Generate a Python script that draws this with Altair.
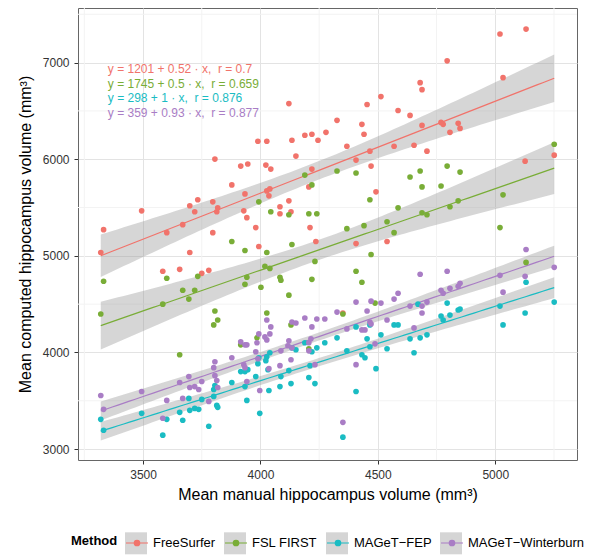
import numpy as np
import pandas as pd
import altair as alt

methods = ["FreeSurfer", "FSL FIRST", "MAGeT\u2212FEP", "MAGeT\u2212Winterburn"]
palette = ["#F1736B", "#79AD37", "#1ABCC3", "#A97DC5"]
equations = [
    "y = 1201 + 0.52 \u00b7 x,\u00a0 r = 0.7",
    "y = 1745 + 0.5 \u00b7 x,\u00a0 r = 0.659",
    "y = 298 + 1 \u00b7 x,\u00a0 r = 0.876",
    "y = 359 + 0.93 \u00b7 x,\u00a0 r = 0.877",
]

# FreeSurfer
fs_x = [3320, 3332, 3494, 3584, 3601, 3656, 3669, 3699, 3699, 3720,
        3733, 3750, 3780, 3797, 3797, 3806, 3814, 3818, 3878, 3916,
        3929, 3934, 3942, 3946, 3980, 3989, 3993, 4023, 4027, 4027,
        4036, 4040, 4044, 4083, 4083, 4121, 4121, 4130, 4134, 4151,
        4189, 4206, 4211, 4219, 4219, 4236, 4245, 4279, 4326, 4351,
        4368, 4407, 4407, 4432, 4441, 4454, 4466, 4471, 4492, 4513,
        4539, 4569, 4586, 4637, 4654, 4680, 4688, 4688, 4709, 4769,
        4778, 4795, 4807, 4842, 4850, 5020, 5033, 5127, 5131, 5251]
fs_y = [5035, 5271, 5466, 4840, 5240, 4860, 5323, 5518, 5035, 5456,
        5580, 4819, 4850, 5559, 5240, 6001, 5456, 5497, 5734, 5929,
        5466, 5641, 5395, 5950, 5292, 6186, 5097, 5939, 6186, 5672,
        5621, 5693, 5898, 5508, 5436, 6576, 5569, 5456, 6196, 6032,
        6248, 5713, 5292, 6258, 5898, 5148, 6196, 6278, 6402, 4408,
        6134, 5991, 5127, 6361, 6258, 6566, 6083, 5929, 5662, 6648,
        5148, 6134, 6504, 6453, 6145, 6792, 6720, 6350, 6083, 6381,
        6361, 7018, 6278, 6371, 6319, 7296, 6844, 5980, 7347, 6042]

# FSL FIRST
fsl_x = [3320, 3332, 3584, 3601, 3656, 3669, 3695, 3720, 3733, 3801,
         3806, 3818, 3878, 3916, 3934, 3934, 3942, 3985, 3993, 4002,
         4019, 4027, 4027, 4040, 4044, 4083, 4087, 4121, 4121, 4130,
         4134, 4189, 4206, 4206, 4219, 4219, 4232, 4240, 4326, 4351,
         4368, 4407, 4407, 4432, 4441, 4466, 4471, 4488, 4539, 4569,
         4586, 4637, 4680, 4688, 4688, 4709, 4769, 4795, 4807, 4842,
         4850, 5020, 5033, 5131, 5251]
fsl_y = [4398, 4737, 4500, 4768, 3976, 4644, 4552, 4644, 4788, 4285,
         4429, 4336, 5148, 4079, 5055, 4706, 4778, 4151, 5559, 4675,
         4891, 5035, 4408, 4870, 5456, 4778, 4747, 5425, 4593, 4285,
         5117, 5836, 5436, 4038, 5734, 4757, 4942, 5436, 5878, 4398,
         5281, 5857, 4840, 4727, 5312, 5580, 5014, 4511, 5353, 5240,
         5497, 5816, 5878, 5713, 5446, 5425, 5723, 5929, 5508, 5569,
         5867, 5292, 5631, 4932, 6155]

# MAGeT-FEP
fep_x = [3320, 3332, 3494, 3584, 3601, 3656, 3669, 3695, 3699, 3720,
         3737, 3750, 3780, 3801, 3801, 3806, 3814, 3818, 3878, 3916,
         3934, 3934, 3942, 3946, 3980, 3989, 3997, 3993, 4023, 4027,
         4032, 4036, 4040, 4083, 4087, 4121, 4130, 4134, 4151, 4189,
         4206, 4211, 4219, 4232, 4240, 4274, 4326, 4351, 4368, 4407,
         4407, 4432, 4445, 4454, 4466, 4466, 4492, 4513, 4539, 4569,
         4586, 4637, 4654, 4671, 4680, 4709, 4769, 4778, 4795, 4807,
         4842, 4850, 5020, 5033, 5127, 5131, 5251]
fep_y = [3308, 3195, 3370, 3144, 3308, 3380, 3298, 3524, 3401, 3421,
         3411, 3514, 3236, 3617, 3545, 3658, 3452, 3432, 3689, 3802,
         3802, 3647, 3504, 3822, 3750, 3884, 3370, 3945, 3915, 3956,
         3822, 3606, 3997, 3647, 3750, 3812, 3678, 4048, 4028, 4100,
         3740, 3863, 4007, 3678, 4048, 4100, 4151, 3123, 4017, 4264,
         3596, 3976, 3945, 4141, 4285, 4059, 3832, 4182, 4038, 4285,
         4285, 4141, 3997, 4500, 4151, 4182, 4377, 4336, 4511, 4387,
         4439, 4449, 4480, 4285, 4408, 4727, 4521]

# MAGeT-Winterburn
win_x = [3320, 3332, 3494, 3584, 3601, 3656, 3669, 3695, 3699, 3720,
         3737, 3750, 3780, 3801, 3806, 3806, 3814, 3818, 3878, 3916,
         3929, 3934, 3934, 3942, 3942, 3980, 3989, 3993, 3985, 3997,
         4019, 4027, 4027, 4036, 4040, 4044, 4083, 4087, 4117, 4121,
         4130, 4134, 4134, 4151, 4189, 4206, 4206, 4215, 4219, 4232,
         4240, 4274, 4326, 4351, 4368, 4407, 4407, 4432, 4445, 4454,
         4466, 4471, 4471, 4488, 4513, 4539, 4569, 4586, 4637, 4654,
         4680, 4688, 4688, 4709, 4769, 4778, 4795, 4807, 4842, 4850,
         5020, 5033, 5127, 5131, 5251]
win_y = [3555, 3411, 3596, 3319, 3504, 3689, 3524, 3750, 3637, 3647,
         3617, 3699, 3493, 3843, 3904, 3760, 3709, 3637, 3945, 4110,
         3874, 4079, 3843, 4079, 3699, 4007, 3935, 4192, 4100, 3606,
         4161, 4336, 4130, 3832, 4192, 4264, 3863, 4017, 4069, 4120,
         3925, 4315, 4048, 4305, 4357, 4100, 4017, 4141, 4264, 3874,
         4346, 4346, 4418, 3277, 4244, 4521, 3874, 4233, 4233, 4429,
         4315, 4531, 4295, 4089, 4511, 4336, 4552, 4613, 4480, 4254,
         4809, 4480, 4408, 4521, 4644, 4613, 4840, 4665, 4685, 4716,
         4798, 4624, 4788, 5066, 4881]

x_major = [3500, 4000, 4500, 5000]
x_minor = [3250, 3750, 4250, 4750, 5250]
y_major = [3000, 4000, 5000, 6000, 7000]
y_minor = [3500, 4500, 5500, 6500, 7500]

series = {
    methods[0]: (fs_x, fs_y),
    methods[1]: (fsl_x, fsl_y),
    methods[2]: (fep_x, fep_y),
    methods[3]: (win_x, win_y),
}

# points + linear fit with 95% confidence band (like geom_smooth(method="lm"))
point_frames = []
fit_frames = []
for name, (xs, ys) in series.items():
    x = np.array(xs, dtype=float)
    y = np.array(ys, dtype=float)
    point_frames.append(pd.DataFrame({"Method": name, "manual": x, "computed": y}))
    n = len(x)
    slope, icept = np.polyfit(x, y, 1)
    resid = y - (icept + slope * x)
    s = np.sqrt((resid ** 2).sum() / (n - 2))
    xbar = x.mean()
    sxx = ((x - xbar) ** 2).sum()
    grid = np.linspace(x.min(), x.max(), 80)
    fit = icept + slope * grid
    se = s * np.sqrt(1.0 / n + (grid - xbar) ** 2 / sxx)
    fit_frames.append(pd.DataFrame({
        "Method": name, "manual": grid, "fit": fit,
        "lower": fit - 1.99 * se, "upper": fit + 1.99 * se}))
points = pd.concat(point_frames, ignore_index=True)
fits = pd.concat(fit_frames, ignore_index=True)

font = "Liberation Sans"
x_scale = alt.Scale(domain=[3223, 5348], nice=False, zero=False)
y_scale = alt.Scale(domain=[2887, 7565], nice=False, zero=False)
color_scale = alt.Scale(domain=methods, range=palette)

legend_common = dict(
    orient="none", legendY=523, direction="horizontal",
    titleOrient="left", titleFont=font, titleFontSize=13,
    titleFontWeight="bold", labelFont=font, labelFontSize=13,
    symbolSize=484, symbolStrokeWidth=1.2, titlePadding=7, labelOffset=4,
    columnPadding=6, padding=0, offset=0)

# line with a (ring-filled) dot in the middle, like ggplot's key
key_path = "M-1,0L1,0" + "".join(
    f"M{r},0A{r},{r},0,1,1,{-r},0A{r},{r},0,1,1,{r},0" for r in (0.25, 0.16, 0.07))

axis_style = dict(format="d", grid=True, gridColor="#e3e3e3", domain=False,
                  tickColor="#333333", tickSize=4, labelFontSize=12,
                  labelColor="#333333", labelPadding=5, titleFontSize=16,
                  titleFontWeight="normal", titleColor="black")
x_axis = alt.Axis(values=x_major, title="Mean manual hippocampus volume (mm\u00b3)",
                  titlePadding=6, **axis_style)
y_axis = alt.Axis(values=y_major, title="Mean computed hippocampus volume (mm\u00b3)",
                  titlePadding=9, **axis_style)


def X(field):
    return alt.X(field, scale=x_scale, axis=x_axis)


def Y(field):
    return alt.Y(field, scale=y_scale, axis=y_axis)


minor_x = alt.Chart(pd.DataFrame({"v": x_minor})).mark_rule(
    color="#f3f3f3", strokeWidth=1).encode(x=X("v:Q"))
minor_y = alt.Chart(pd.DataFrame({"v": y_minor})).mark_rule(
    color="#f3f3f3", strokeWidth=1).encode(y=Y("v:Q"))

bands = alt.Chart(fits).mark_area(opacity=0.4).encode(
    x=X("manual:Q"),
    y=Y("lower:Q"),
    y2="upper:Q",
    fill=alt.Fill("Method:N", sort=methods, scale=alt.Scale(range=["#999999"]),
                  legend=alt.Legend(title=None, legendX=46, symbolType="square",
                                    symbolOpacity=0.4, symbolStrokeColor="transparent",
                                    labelColor="transparent", zindex=0,
                                    **legend_common)))

lines = alt.Chart(fits).mark_line(strokeWidth=1.2).encode(
    x=X("manual:Q"),
    y=Y("fit:Q"),
    stroke=alt.Stroke("Method:N", scale=color_scale,
                      legend=alt.Legend(title="Method", legendX=-7, symbolType=key_path,
                                        symbolOpacity=1, symbolFillColor="transparent",
                                        labelColor="black", titleColor="black",
                                        zindex=1, **legend_common)))

dots = alt.Chart(points).mark_circle(size=32, opacity=1).encode(
    x=X("manual:Q"),
    y=Y("computed:Q"),
    color=alt.Color("Method:N", scale=color_scale, legend=None))

eq_layers = []
for eq, col, yv in zip(equations, palette, [6930, 6783, 6630, 6477]):
    eq_layers.append(
        alt.Chart(pd.DataFrame({"t": [eq], "px": [3350], "py": [yv]})).mark_text(
            align="left", baseline="middle", font=font, fontSize=12, color=col).encode(
            x=X("px:Q"), y=Y("py:Q"), text="t:N"))

chart = alt.layer(minor_x, minor_y, bands, lines, dots, *eq_layers).properties(
    width=499, height=452,
    autosize=alt.AutoSizeParams(type="none"),
    padding={"left": 70, "top": 0, "right": 10, "bottom": 96},
).configure(font=font).configure_view(stroke="#666666", strokeWidth=1)

chart.save("out.html", embed_options={"renderer": "svg", "actions": False})
